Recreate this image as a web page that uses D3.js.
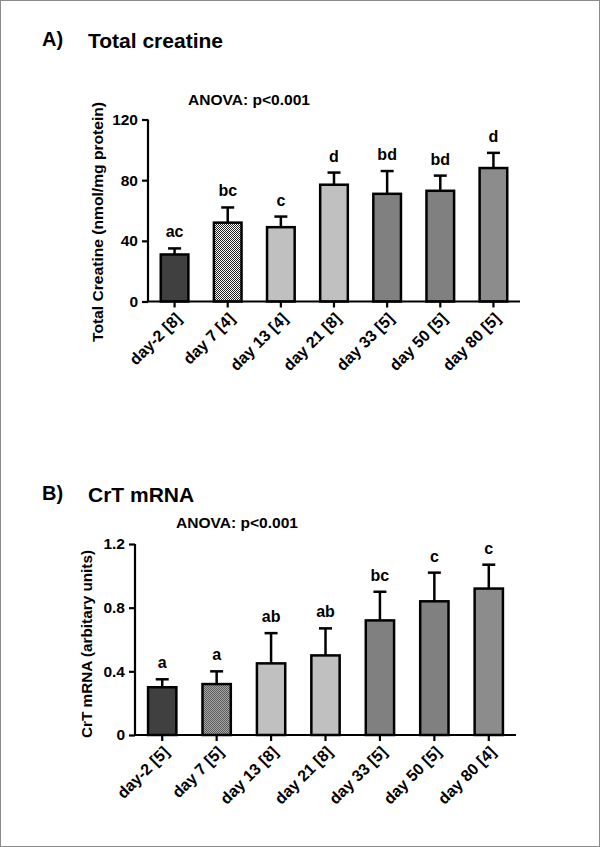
<!DOCTYPE html>
<html>
<head>
<meta charset="utf-8">
<script src="https://cdn.jsdelivr.net/npm/d3@7"></script>
<style>
  html, body { margin: 0; padding: 0; background: #fff; }
  svg { display: block; }
  text { font-family: "Liberation Sans", Arial, sans-serif; font-weight: bold; fill: #000; }
</style>
</head>
<body>
<div id="chart"></div>
<script>
// ---------- data ----------
const categoriesA = ["day-2 [8]", "day 7 [4]", "day 13 [4]", "day 21 [8]", "day 33 [5]", "day 50 [5]", "day 80 [5]"];
const meansA = [31, 52, 49, 77, 71, 73, 88];
const errorsA = [4, 10, 7, 8, 15, 10, 10];
const lettersA = ["ac", "bc", "c", "d", "bd", "bd", "d"];
const ticksA = [0, 40, 80, 120];

const categoriesB = ["day-2 [5]", "day 7 [5]", "day 13 [8]", "day 21 [8]", "day 33 [5]", "day 50 [5]", "day 80 [4]"];
const meansB = [0.30, 0.32, 0.45, 0.50, 0.72, 0.84, 0.92];
const errorsB = [0.05, 0.08, 0.19, 0.17, 0.18, 0.18, 0.15];
const lettersB = ["a", "a", "ab", "ab", "bc", "c", "c"];
const ticksB = [0, 0.4, 0.8, 1.2];

// ---------- drawing ----------
const W = 600, H = 847;
const svg = d3.select("#chart").append("svg").attr("width", W).attr("height", H);

svg.append("rect").attr("x", 0.5).attr("y", 0.5).attr("width", W - 1).attr("height", H - 1)
  .attr("fill", "#fff").attr("stroke", "#8a8a8a").attr("stroke-width", 1);

const defs = svg.append("defs");
const pA = defs.append("pattern").attr("id", "checkA").attr("width", 2).attr("height", 2)
  .attr("patternUnits", "userSpaceOnUse");
pA.append("rect").attr("width", 2).attr("height", 2).attr("fill", "#ffffff");
pA.append("rect").attr("width", 1).attr("height", 1).attr("fill", "#222");
pA.append("rect").attr("x", 1).attr("y", 1).attr("width", 1).attr("height", 1).attr("fill", "#222");
const pB = defs.append("pattern").attr("id", "checkB").attr("width", 2).attr("height", 2)
  .attr("patternUnits", "userSpaceOnUse");
pB.append("rect").attr("width", 2).attr("height", 2).attr("fill", "#a8a8a8");
pB.append("rect").attr("width", 1).attr("height", 1).attr("fill", "#5a5a5a");
pB.append("rect").attr("x", 1).attr("y", 1).attr("width", 1).attr("height", 1).attr("fill", "#5a5a5a");

const fillsA = ["#404040", "url(#checkA)", "#c0c0c0", "#c0c0c0", "#808080", "#808080", "#8c8c8c"];
const fillsB = ["#404040", "url(#checkB)", "#c0c0c0", "#c0c0c0", "#808080", "#808080", "#8c8c8c"];

function panel(cfg) {
  const g = svg.append("g");
  const x = d3.scaleBand().domain(cfg.categories).range([cfg.x0, cfg.x1])
    .paddingInner(0.48).paddingOuter(0.24);
  const y = d3.scaleLinear().domain([0, cfg.ymax]).range([cfg.y0, cfg.y1]);

  // panel letter & title
  g.append("text").attr("x", 42).attr("y", cfg.titleY).attr("font-size", 20).text(cfg.panelLetter);
  g.append("text").attr("x", cfg.titleX).attr("y", cfg.titleY + 2).attr("font-size", 21).text(cfg.title);
  g.append("text").attr("x", cfg.anovaX).attr("y", cfg.anovaY).attr("font-size", 15)
    .attr("textLength", 122).attr("lengthAdjust", "spacingAndGlyphs").text("ANOVA: p<0.001");

  // bars
  const data = cfg.categories.map((c, i) => ({ c, m: cfg.means[i], e: cfg.errors[i], l: cfg.letters[i], f: cfg.fills[i] }));

  // error bars (upper only)
  const capW = 13;
  g.selectAll(".err").data(data).enter().append("line")
    .attr("x1", d => x(d.c) + x.bandwidth() / 2).attr("x2", d => x(d.c) + x.bandwidth() / 2)
    .attr("y1", d => y(d.m)).attr("y2", d => y(d.m + d.e))
    .attr("stroke", "#000").attr("stroke-width", 2.5);
  g.selectAll(".cap").data(data).enter().append("line")
    .attr("x1", d => x(d.c) + x.bandwidth() / 2 - capW / 2).attr("x2", d => x(d.c) + x.bandwidth() / 2 + capW / 2)
    .attr("y1", d => y(d.m + d.e)).attr("y2", d => y(d.m + d.e))
    .attr("stroke", "#000").attr("stroke-width", 2.5);

  g.selectAll(".bar").data(data).enter().append("rect")
    .attr("x", d => x(d.c)).attr("width", x.bandwidth())
    .attr("y", d => y(d.m)).attr("height", d => y(0) - y(d.m))
    .attr("fill", d => d.f).attr("stroke", "#000").attr("stroke-width", 2.5);

  // letters
  g.selectAll(".let").data(data).enter().append("text")
    .attr("x", d => x(d.c) + x.bandwidth() / 2).attr("y", d => y(d.m + d.e) - 11)
    .attr("text-anchor", "middle").attr("font-size", 16).text(d => d.l);

  // y axis
  const ya = g.append("g").attr("transform", `translate(${cfg.x0},0)`)
    .call(d3.axisLeft(y).tickValues(cfg.ticks).tickSize(6).tickPadding(4).tickFormat(cfg.fmt));
  ya.select(".domain").attr("stroke-width", 2.2).attr("d", `M0,${cfg.y0}V${cfg.y1}`);
  ya.selectAll(".tick line").attr("stroke-width", 2.2);
  ya.selectAll(".tick text").attr("font-size", 15.5).attr("font-family", "Liberation Sans, Arial, sans-serif")
    .attr("font-weight", "bold").attr("fill", "#000");

  // x axis
  const xa = g.append("g").attr("transform", `translate(0,${cfg.y0})`)
    .call(d3.axisBottom(x).tickSize(6).tickPadding(4));
  xa.select(".domain").attr("stroke-width", 2.2).attr("d", `M${cfg.x0},0H${cfg.x1}`);
  xa.selectAll(".tick line").attr("stroke-width", 2.2);
  xa.selectAll(".tick text").attr("font-size", 16).attr("font-family", "Liberation Sans, Arial, sans-serif")
    .attr("font-weight", "bold").attr("fill", "#000")
    .attr("text-anchor", "end").attr("dy", "0.35em")
    .attr("transform", "translate(4,14) rotate(-45)").attr("x", 0).attr("y", 0);

  // y title
  g.append("text").attr("transform", `translate(${cfg.ytitleX},${cfg.ytitleC}) rotate(-90)`)
    .attr("text-anchor", "middle").attr("font-size", 14.5)
    .attr("textLength", cfg.ytitleLen).attr("lengthAdjust", "spacingAndGlyphs").text(cfg.ytitle);
}

panel({
  categories: categoriesA, means: meansA, errors: errorsA, letters: lettersA, fills: fillsA,
  ticks: ticksA, ymax: 120, fmt: d3.format("d"),
  x0: 148, x1: 520, y0: 301.5, y1: 119.5,
  panelLetter: "A)", title: "Total creatine", titleX: 88, titleY: 46,
  anovaX: 188, anovaY: 105,
  ytitle: "Total Creatine (nmol/mg protein)", ytitleX: 103, ytitleC: 222, ytitleLen: 240
});

panel({
  categories: categoriesB, means: meansB, errors: errorsB, letters: lettersB, fills: fillsB,
  ticks: ticksB, ymax: 1.2, fmt: d => (d === 0 ? "0" : d3.format(".1f")(d)),
  x0: 135, x1: 516, y0: 735, y1: 544,
  panelLetter: "B)", title: "CrT mRNA", titleX: 88, titleY: 500,
  anovaX: 176, anovaY: 528,
  ytitle: "CrT mRNA (arbitary units)", ytitleX: 92, ytitleC: 644, ytitleLen: 188
});
</script>
</body>
</html>
